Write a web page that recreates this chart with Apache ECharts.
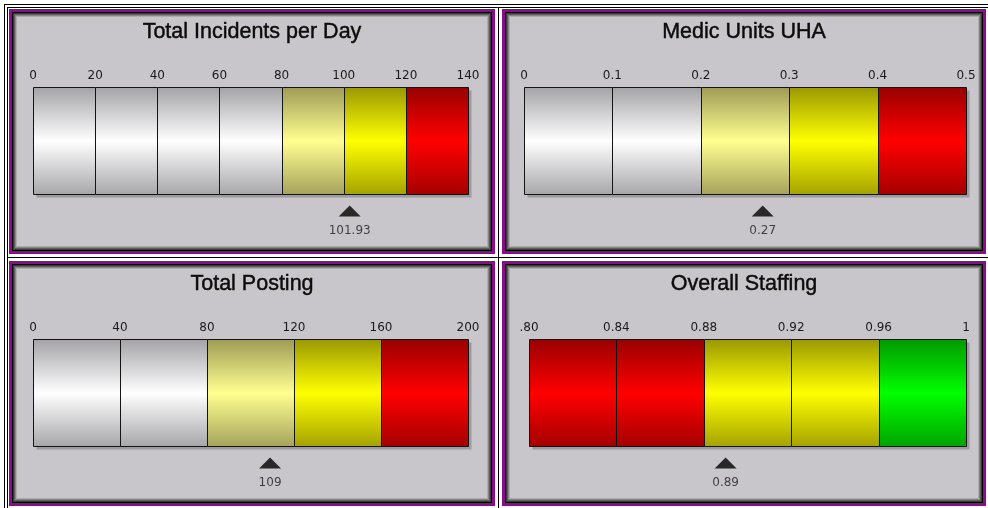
<!DOCTYPE html>
<html>
<head>
<meta charset="utf-8">
<script src="https://cdn.jsdelivr.net/npm/echarts@6/dist/echarts.min.js"></script>
<style>
  html, body { margin: 0; padding: 0; background: #ffffff; }
  #chart { width: 988px; height: 508px; }
</style>
</head>
<body>
<div id="chart"></div>
<script>
// ---- gauge data ----
const titles = ['Total Incidents per Day', 'Medic Units UHA', 'Total Posting', 'Overall Staffing'];

const incidentsBreaks = [0, 20, 40, 60, 80, 100, 120, 140];
const incidentsTicks = ['0', '20', '40', '60', '80', '100', '120', '140'];
const incidentsBands = ['silver', 'silver', 'silver', 'silver', 'pale', 'yellow', 'red'];
const incidentsValue = 101.93;

const medicBreaks = [0, 0.1, 0.2, 0.3, 0.4, 0.5];
const medicTicks = ['0', '0.1', '0.2', '0.3', '0.4', '0.5'];
const medicBands = ['silver', 'silver', 'pale', 'yellow', 'red'];
const medicValue = 0.27;

const postingBreaks = [0, 40, 80, 120, 160, 200];
const postingTicks = ['0', '40', '80', '120', '160', '200'];
const postingBands = ['silver', 'silver', 'pale', 'yellow', 'red'];
const postingValue = 109;

const staffingBreaks = [0.80, 0.84, 0.88, 0.92, 0.96, 1.00];
const staffingTicks = ['.80', '0.84', '0.88', '0.92', '0.96', '1'];
const staffingBands = ['red', 'red', 'yellow', 'yellow', 'green'];
const staffingValue = 0.89;

// ---- styling ----
const FONT = 'DejaVu Sans';
const TITLE_FONT = 'Liberation Sans';
const PANEL_BG = '#c8c6ca';

// dark edge / bright centre / dark edge
const bandColors = {
  silver: ['#a3a2a6', '#ffffff', '#a6a5a9'],
  pale:   ['#9e9b55', '#ffff90', '#a5a25c'],
  yellow: ['#999800', '#ffff00', '#a4a200'],
  red:    ['#990000', '#ff0000', '#a40000'],
  green:  ['#009900', '#00ff00', '#00a300']
};

function bandFill(name) {
  const c = bandColors[name];
  return new echarts.graphic.LinearGradient(0, 0, 0, 1, [
    { offset: 0, color: c[0] },
    { offset: 0.5, color: c[1] },
    { offset: 1, color: c[2] }
  ]);
}

// panel frames (outer edge of the purple border)
const panels = [
  { x: 9, y: 9, w: 486, h: 245 },
  { x: 502, y: 9, w: 484, h: 245 },
  { x: 9, y: 261, w: 486, h: 245 },
  { x: 502, y: 261, w: 484, h: 245 }
];

// bar areas
const grids = [
  { left: 33, top: 87, width: 435, height: 107 },
  { left: 524, top: 87, width: 442, height: 107 },
  { left: 33, top: 339, width: 435, height: 107 },
  { left: 529, top: 339, width: 437, height: 107 }
];

const gauges = [
  { breaks: incidentsBreaks, ticks: incidentsTicks, bands: incidentsBands, value: incidentsValue },
  { breaks: medicBreaks, ticks: medicTicks, bands: medicBands, value: medicValue },
  { breaks: postingBreaks, ticks: postingTicks, bands: postingBands, value: postingValue },
  { breaks: staffingBreaks, ticks: staffingTicks, bands: staffingBands, value: staffingValue }
];

// ---- frame graphics ----
const graphics = [];
// table rules
const rule = (x1, y1, x2, y2) => graphics.push({
  type: 'line', silent: true,
  shape: { x1, y1, x2, y2 },
  style: { stroke: '#000', lineWidth: 1 }
});
rule(4.5, 4, 4.5, 508);
rule(4, 4.5, 988, 4.5);
rule(7.5, 7, 7.5, 508);
rule(7, 7.5, 988, 7.5);
rule(498.5, 7, 498.5, 508);
rule(7, 257.5, 988, 257.5);

const frameLayers = [
  { inset: 0, color: '#8c0a8c' },
  { inset: 3, color: '#000000' },
  { inset: 4, color: '#3a3a3a' },
  { inset: 5, color: '#5e5e5e' },
  { inset: 6, color: '#858585' },
  { inset: 7, color: '#acacac' },
  { inset: 8, color: PANEL_BG }
];
panels.forEach((p, i) => {
  frameLayers.forEach(l => {
    graphics.push({
      type: 'rect', silent: true,
      shape: { x: p.x + l.inset, y: p.y + l.inset, width: p.w - 2 * l.inset, height: p.h - 2 * l.inset },
      style: { fill: l.color }
    });
  });
  graphics.push({
    type: 'text', silent: true,
    x: p.x + p.w / 2, y: p.y + 23,
    style: {
      text: titles[i], fill: '#0c0c0c', font: 'normal 21.5px "' + TITLE_FONT + '"',
      stroke: '#0c0c0c', lineWidth: 0.45,
      textAlign: 'center', textVerticalAlign: 'middle'
    }
  });
});

// ---- series ----
function pixelRect(api, from, to) {
  const a = api.coord([from, 1]);
  const b = api.coord([to, 0]);
  const x0 = Math.round(a[0]) + 0.5;
  const x1 = Math.round(b[0]) + 0.5;
  const y0 = Math.round(a[1]) + 0.5;
  const y1 = Math.round(b[1]) + 0.5;
  return { x: x0, y: y0, width: x1 - x0, height: y1 - y0 };
}

const xAxes = [], yAxes = [], series = [];
gauges.forEach((g, i) => {
  const min = g.breaks[0];
  const max = g.breaks[g.breaks.length - 1];
  const step = g.breaks[1] - g.breaks[0];
  xAxes.push({
    type: 'value', gridIndex: i, min, max, interval: step, position: 'top',
    axisLine: { show: false }, axisTick: { show: false }, splitLine: { show: false },
    axisLabel: {
      show: true, margin: 5, color: '#1a1a1a', fontFamily: FONT, fontSize: 12,
      showMinLabel: true, showMaxLabel: true,
      formatter: v => g.ticks[Math.round((v - min) / step)]
    }
  });
  yAxes.push({ type: 'value', gridIndex: i, min: 0, max: 1, show: false });

  // drop shadow under the whole bar
  series.push({
    type: 'custom', xAxisIndex: i, yAxisIndex: i, z: 1,
    renderItem: (params, api) => {
      const r = pixelRect(api, api.value(0), api.value(1));
      return {
        type: 'rect',
        shape: { x: r.x + 3, y: r.y + 3, width: r.width, height: r.height },
        style: { fill: 'rgba(0,0,0,0.22)' }
      };
    },
    encode: { x: [0, 1] },
    data: [[min, max]],
    silent: true, animation: false
  });

  // coloured bands
  const segData = g.bands.map((b, k) => [g.breaks[k], g.breaks[k + 1], k]);
  series.push({
    type: 'custom', xAxisIndex: i, yAxisIndex: i, z: 2,
    renderItem: (params, api) => ({
      type: 'rect',
      shape: pixelRect(api, api.value(0), api.value(1)),
      style: { fill: bandFill(g.bands[api.value(2)]), stroke: '#141414', lineWidth: 1 }
    }),
    encode: { x: [0, 1] },
    data: segData,
    silent: true, animation: false
  });

  // current value pointer
  series.push({
    type: 'scatter', xAxisIndex: i, yAxisIndex: i,
    data: [[g.value, 0]],
    symbol: 'triangle', symbolSize: [22, 11], symbolOffset: [0, 17],
    itemStyle: { color: '#000' },
    clip: false, silent: true, animation: false, z: 5,
    label: {
      show: true, position: 'bottom', distance: 8,
      color: '#1a1a1a', fontFamily: FONT, fontSize: 12,
      formatter: p => String(p.value[0])
    }
  });
});

const chart = echarts.init(document.getElementById('chart'), null, { renderer: 'canvas' });
chart.setOption({
  animation: false,
  backgroundColor: '#ffffff',
  graphic: { elements: graphics },
  grid: grids.map(gr => Object.assign({ containLabel: false }, gr)),
  xAxis: xAxes,
  yAxis: yAxes,
  series
});
</script>
</body>
</html>
